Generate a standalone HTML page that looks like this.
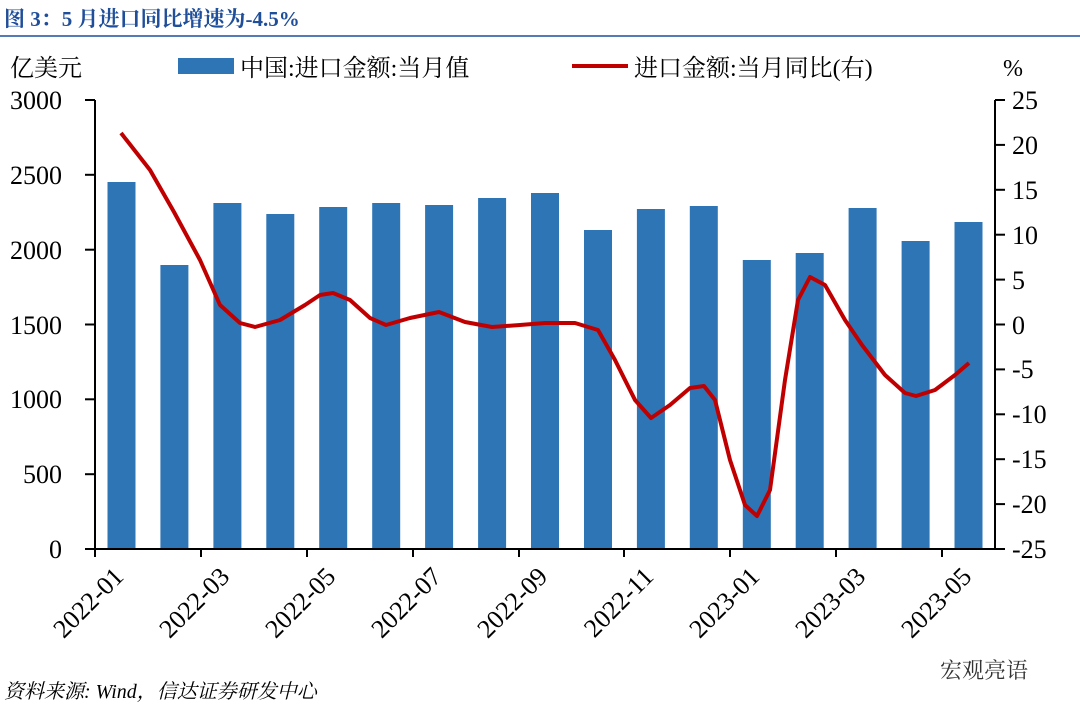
<!DOCTYPE html>
<html><head><meta charset="utf-8"><style>
body{margin:0;background:#fff;}
svg text{font-family:"Liberation Serif","Noto Serif CJK SC",serif;}
</style></head><body>
<svg width="1080" height="717" viewBox="0 0 1080 717" xmlns="http://www.w3.org/2000/svg">
<text x="4" y="26" font-size="21" font-weight="bold" fill="#1f4e9a" font-family="Liberation Sans,Noto Sans CJK SC,sans-serif">图  3：5 月进口同比增速为-4.5%</text>
<line x1="0" y1="36" x2="1080" y2="36" stroke="#1f4e9a" stroke-width="1.5"/>
<text x="10" y="76" font-size="24" font-family="Liberation Sans,Noto Sans CJK SC,sans-serif">亿美元</text>
<text x="1003" y="76" font-size="24">%</text>
<rect x="178" y="58" width="56" height="16" fill="#2e75b6"/>
<text x="240" y="76" font-size="24" font-family="Liberation Sans,Noto Sans CJK SC,sans-serif">中国:进口金额:当月值</text>
<line x1="572" y1="66" x2="628" y2="66" stroke="#c00000" stroke-width="4"/>
<text x="634" y="76" font-size="24" font-family="Liberation Sans,Noto Sans CJK SC,sans-serif">进口金额:当月同比(右)</text>
<g fill="#2e75b6">
<rect x="107.5" y="182" width="28" height="367"/>
<rect x="160.4" y="265" width="28" height="284"/>
<rect x="213.4" y="203" width="28" height="346"/>
<rect x="266.3" y="214" width="28" height="335"/>
<rect x="319.2" y="207" width="28" height="342"/>
<rect x="372.2" y="203" width="28" height="346"/>
<rect x="425.1" y="205" width="28" height="344"/>
<rect x="478.1" y="198" width="28" height="351"/>
<rect x="531.0" y="193" width="28" height="356"/>
<rect x="584.0" y="230" width="28" height="319"/>
<rect x="636.9" y="209" width="28" height="340"/>
<rect x="689.8" y="206" width="28" height="343"/>
<rect x="742.8" y="260" width="28" height="289"/>
<rect x="795.7" y="253" width="28" height="296"/>
<rect x="848.6" y="208" width="28" height="341"/>
<rect x="901.6" y="241" width="28" height="308"/>
<rect x="954.5" y="222" width="28" height="327"/>
</g>
<g stroke="#000" stroke-width="2">
<line x1="95" y1="100" x2="95" y2="549"/><line x1="995" y1="100" x2="995" y2="549"/><line x1="94" y1="549" x2="996" y2="549"/>
<line x1="85" y1="100" x2="95" y2="100"/><line x1="85" y1="174.8" x2="95" y2="174.8"/><line x1="85" y1="249.7" x2="95" y2="249.7"/><line x1="85" y1="324.5" x2="95" y2="324.5"/><line x1="85" y1="399.3" x2="95" y2="399.3"/><line x1="85" y1="474.2" x2="95" y2="474.2"/><line x1="85" y1="549" x2="95" y2="549"/>
<line x1="995" y1="100" x2="1005" y2="100"/><line x1="995" y1="144.9" x2="1005" y2="144.9"/><line x1="995" y1="189.8" x2="1005" y2="189.8"/><line x1="995" y1="234.7" x2="1005" y2="234.7"/><line x1="995" y1="279.6" x2="1005" y2="279.6"/><line x1="995" y1="324.5" x2="1005" y2="324.5"/><line x1="995" y1="369.4" x2="1005" y2="369.4"/><line x1="995" y1="414.3" x2="1005" y2="414.3"/><line x1="995" y1="459.2" x2="1005" y2="459.2"/><line x1="995" y1="504.1" x2="1005" y2="504.1"/><line x1="995" y1="549" x2="1005" y2="549"/>
<line x1="95" y1="549" x2="95" y2="557"/><line x1="201" y1="549" x2="201" y2="557"/><line x1="307" y1="549" x2="307" y2="557"/><line x1="413" y1="549" x2="413" y2="557"/><line x1="519" y1="549" x2="519" y2="557"/><line x1="624" y1="549" x2="624" y2="557"/><line x1="730" y1="549" x2="730" y2="557"/><line x1="836" y1="549" x2="836" y2="557"/><line x1="942" y1="549" x2="942" y2="557"/>
</g>
<g font-size="26" text-anchor="end">
<text x="62" y="109">3000</text><text x="62" y="184">2500</text><text x="62" y="259">2000</text><text x="62" y="334">1500</text><text x="62" y="408">1000</text><text x="62" y="483">500</text><text x="62" y="558">0</text>
</g>
<g font-size="26">
<text x="1012" y="109">25</text><text x="1012" y="154">20</text><text x="1012" y="199">15</text><text x="1012" y="244">10</text><text x="1012" y="289">5</text><text x="1012" y="334">0</text><text x="1012" y="378">-5</text><text x="1012" y="423">-10</text><text x="1012" y="468">-15</text><text x="1012" y="513">-20</text><text x="1012" y="558">-25</text>
</g>
<polyline fill="none" stroke="#c00000" stroke-width="4" stroke-linejoin="round" points="121,133 150,170 174,212 200,260 220,305 240,323 255,327 280,320 305,305 320,295 333,293 350,300 370,318 386,325 410,318 439,312 465,322 492,327 520,325 545,323 575,323 598,330 615,360 635,400 651,418 670,405 690,388 704,386 715,400 730,460 745,505 757,516 770,490 785,380 798,300 810,277 825,285 845,320 862,345 885,375 905,393 916,396 935,390 955,375 969,363"/>
<g font-size="26" text-anchor="end">
<text x="125" y="578" transform="rotate(-45 125 578)">2022-01</text>
<text x="231" y="578" transform="rotate(-45 231 578)">2022-03</text>
<text x="337" y="578" transform="rotate(-45 337 578)">2022-05</text>
<text x="443" y="578" transform="rotate(-45 443 578)">2022-07</text>
<text x="549" y="578" transform="rotate(-45 549 578)">2022-09</text>
<text x="655" y="578" transform="rotate(-45 655 578)">2022-11</text>
<text x="761" y="578" transform="rotate(-45 761 578)">2023-01</text>
<text x="867" y="578" transform="rotate(-45 867 578)">2023-03</text>
<text x="973" y="578" transform="rotate(-45 973 578)">2023-05</text>
</g>
<text x="4" y="698" font-size="20" font-style="italic" font-family="Liberation Serif,Noto Serif CJK SC,serif">资料来源: Wind，信达证券研发中心</text>
<text x="940" y="678" font-size="22" fill="#333" font-family="Liberation Sans,Noto Sans CJK SC,sans-serif">宏观亮语</text>
</svg>
</body></html>
